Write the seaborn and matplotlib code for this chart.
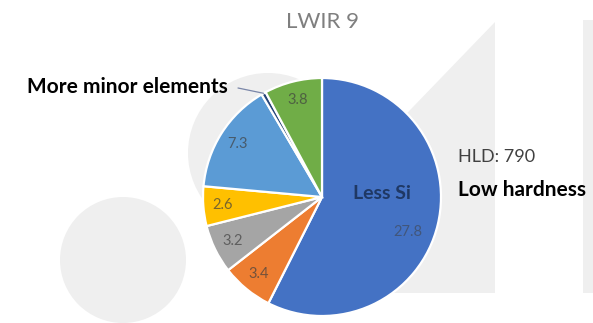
import matplotlib
matplotlib.use("Agg")
import matplotlib.pyplot as plt
from matplotlib.patches import Circle, Polygon, Rectangle
import numpy as np
import seaborn as sns

# Composition of LWIR 9 (clockwise from 12 o'clock)
categories = ["Less Si", "C4", "C3", "C2", "C1", "More minor elements", "C0"]
values = [27.8, 3.4, 3.2, 2.6, 7.3, 0.3, 3.8]
value_labels = ["27.8", "3.4", "3.2", "2.6", "7.3", "", "3.8"]
slice_colors = ["#4472C4", "#ED7D31", "#A5A5A5", "#FFC000",
                "#5B9BD5", "#264478", "#70AD47"]

title = "LWIR 9"
hld_text = "HLD: 790"
hardness_text = "Low hardness"

sns.set_theme(style="white")
plt.rcParams["font.family"] = ["Lato", "DejaVu Sans"]

W, H = 593, 323
fig = plt.figure(figsize=(W / 100, H / 100), dpi=100)
fig.patch.set_facecolor("white")

# Decorative backdrop in pixel coordinates
bg = fig.add_axes([0, 0, 1, 1], zorder=0)
bg.set_xlim(0, W)
bg.set_ylim(H, 0)
bg.axis("off")
shade = "#EFEFEF"
bg.add_patch(Circle((123, 260), 63, color=shade, lw=0))
bg.add_patch(Circle((268, 153), 80, color=shade, lw=0))
bg.add_patch(Polygon([(495, 22), (495, 293), (330, 293), (330, 193)],
                     closed=True, color=shade, lw=0))
bg.add_patch(Rectangle((583, 20), 12, 273, color=shade, lw=0))

# Pie axes: centre (322, 197) px, radius 119 px
cx, cy, R = 322, 197, 119
ax = fig.add_axes([(cx - R) / W, (H - cy - R) / H, 2 * R / W, 2 * R / H], zorder=1)
ax.patch.set_alpha(0)
wedges, _ = ax.pie(values, colors=slice_colors, startangle=90, counterclock=False,
                   radius=1, wedgeprops=dict(edgecolor="white", linewidth=1.6))
ax.set_xlim(-1, 1)
ax.set_ylim(-1, 1)
ax.set_aspect("equal")
ax.axis("off")

# Value labels inside the slices
for w, lab, cat in zip(wedges, value_labels, categories):
    mid = np.deg2rad((w.theta1 + w.theta2) / 2)
    if cat == "Less Si":
        ax.text(0.50, 0.03, cat, ha="center", va="center", fontsize=14,
                fontweight="bold", color="#1F3864")
        ang = mid - np.deg2rad(9)
        ax.text(0.78 * np.cos(ang), 0.78 * np.sin(ang), lab, ha="center",
                va="center", fontsize=10.5, color="#404040", alpha=0.55)
    elif lab:
        ax.text(0.84 * np.cos(mid), 0.84 * np.sin(mid), lab, ha="center",
                va="center", fontsize=10.5, color="#404040", alpha=0.7)

# Callout for the tiny slice
minor = wedges[categories.index("More minor elements")]
mm = np.deg2rad((minor.theta1 + minor.theta2) / 2)
ax.annotate("", xy=(np.cos(mm), np.sin(mm)), xycoords="data",
            xytext=(238, H - 88), textcoords="figure pixels",
            arrowprops=dict(arrowstyle="-", color="#7a86a8", lw=0.9,
                            shrinkA=0, shrinkB=0))
bg.text(228, 93, "More minor elements", ha="right", va="baseline",
        fontsize=15, fontweight="bold", color="black")

# Title and side notes
bg.text(322, 28, title, ha="center", va="baseline", fontsize=16, color="#7F7F7F")
bg.text(458, 162, hld_text, ha="left", va="baseline", fontsize=13, color="#404040")
bg.text(458, 196, hardness_text, ha="left", va="baseline", fontsize=15,
        fontweight="bold", color="black")

fig.savefig("out.png", dpi=100)
